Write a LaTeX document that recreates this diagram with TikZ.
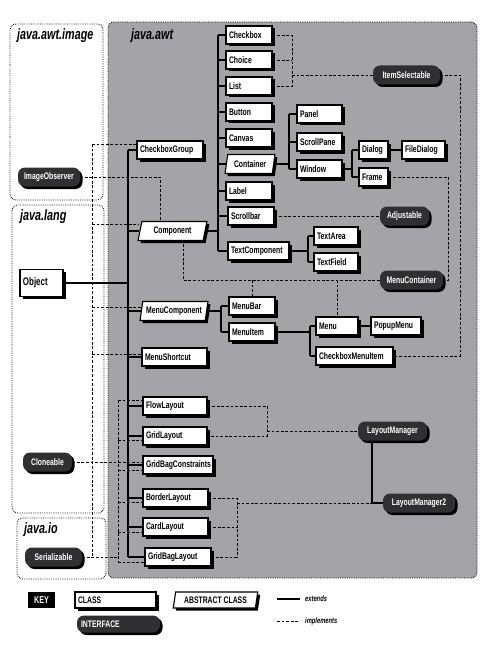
\documentclass[tikz,border=0pt]{standalone}
\usepackage{fontspec}
\setmainfont{Liberation Sans}[FakeStretch=0.72]
\usetikzlibrary{shapes.geometric,shadows,backgrounds}
\definecolor{awtgray}{RGB}{164,164,168}
\definecolor{ifill}{RGB}{48,48,50}
\begin{document}
\begin{tikzpicture}[x=1pt,y=-1pt,
  shd/.style={drop shadow={shadow xshift=2.5pt,shadow yshift=-2.5pt,opacity=1,fill=black}},
  lbl/.style={font=\bfseries\fontsize{9.5}{10}\selectfont},
  cls/.style={rectangle,draw=black,line width=1.1pt,fill=white,shd,lbl,inner xsep=3pt,inner ysep=0pt,minimum height=18pt,align=left,text width=#1},
  abs/.style={trapezium,trapezium left angle=74,trapezium right angle=106,trapezium stretches=true,draw=black,line width=1.1pt,fill=white,shd,lbl,minimum width=#1,minimum height=19pt,inner xsep=1pt,inner ysep=0pt},
  ifc/.style={rectangle,rounded corners=7pt,fill=ifill,text=white,shd,lbl,minimum width=#1,minimum height=19pt,inner sep=0pt},
  ext/.style={line width=1.3pt},
  impl/.style={line width=0.9pt,dash pattern=on 2.8pt off 1.8pt},
  pkg/.style={rounded corners=6pt,line width=0.9pt,dash pattern=on 0.7pt off 1.1pt,draw=black},
  pkgtitle/.style={font=\bfseries\itshape\fontsize{15}{17}\selectfont,anchor=west,inner sep=0pt},
  keytxt/.style={font=\bfseries\itshape\fontsize{8}{9}\selectfont,anchor=west,inner sep=0pt}
]
\useasboundingbox (0,0) rectangle (502,658);

% package panels
\begin{scope}[on background layer]
\draw[pkg,fill=white] (10,24) rectangle (103,200);
\draw[pkg,fill=white] (12,205) rectangle (104,513);
\draw[pkg,fill=white] (17,518) rectangle (106,579);
\draw[pkg,fill=awtgray] (108,22) rectangle (477,578);
\end{scope}
\node[pkgtitle] (tImage) at (17,36) {java.awt.image};
\node[pkgtitle] (tAwt) at (131,36) {java.awt};
\node[pkgtitle] (tLang) at (20,217) {java.lang};
\node[pkgtitle] (tIo) at (24,530) {java.io};

% classes
\node[cls=40pt] (Checkbox) at (249,35) {Checkbox};
\node[cls=40pt] (Choice) at (249,60) {Choice};
\node[cls=40pt] (List) at (249,86) {List};
\node[cls=40pt] (Button) at (249,112) {Button};
\node[cls=40pt] (Canvas) at (249,138) {Canvas};
\node[abs=50pt] (Container) at (250,164) {Container};
\node[cls=40pt] (Label) at (249,191) {Label};
\node[cls=40pt] (Scrollbar) at (251,216) {Scrollbar};
\node[cls=55pt] (TextComponent) at (258.5,251) {TextComponent};
\node[cls=39pt] (Panel) at (319.5,114) {Panel};
\node[cls=39pt] (ScrollPane) at (319.5,142) {ScrollPane};
\node[cls=39pt] (Window) at (319.5,169) {Window};
\node[cls=23pt] (Dialog) at (373.5,150) {Dialog};
\node[cls=23pt] (Frame) at (373.5,177) {Frame};
\node[cls=37pt] (FileDialog) at (423.5,150) {FileDialog};
\node[cls=38pt] (TextArea) at (336,236) {TextArea};
\node[cls=38pt] (TextField) at (336,262) {TextField};
\node[cls=60pt] (CheckboxGroup) at (170,150) {CheckboxGroup};
\node[abs=69pt] (Component) at (172.5,231) {Component};
\node[abs=68pt] (MenuComponent) at (174,311) {MenuComponent};
\node[cls=40pt] (MenuBar) at (252,306) {MenuBar};
\node[cls=40pt] (MenuItem) at (252,332) {MenuItem};
\node[cls=36pt] (Menu) at (337,326) {Menu};
\node[cls=44pt] (PopupMenu) at (396,326) {PopupMenu};
\node[cls=71pt] (CheckboxMenuItem) at (354.5,356) {CheckboxMenuItem};
\node[cls=59pt] (MenuShortcut) at (174.5,357) {MenuShortcut};
\node[cls=58pt] (FlowLayout) at (175,406) {FlowLayout};
\node[cls=58pt] (GridLayout) at (175,436) {GridLayout};
\node[cls=64pt] (GridBagConstraints) at (178,465) {GridBagConstraints};
\node[cls=59pt] (BorderLayout) at (175.5,498) {BorderLayout};
\node[cls=59pt] (CardLayout) at (175.5,527) {CardLayout};
\node[cls=60pt] (GridBagLayout) at (178,557) {GridBagLayout};
\node[cls=37pt,minimum height=27pt,font=\bfseries\fontsize{11}{12}\selectfont] (Object) at (41.5,283) {Object};

% interfaces
\node[ifc=62pt] (ImageObserver) at (49,177) {ImageObserver};
\node[ifc=67pt] (ItemSelectable) at (406.5,75) {ItemSelectable};
\node[ifc=49pt] (Adjustable) at (404.5,216) {Adjustable};
\node[ifc=63pt] (MenuContainer) at (411.5,280) {MenuContainer};
\node[ifc=69pt] (LayoutManager) at (392.5,431) {LayoutManager};
\node[ifc=72pt] (LayoutManager2) at (419,503) {LayoutManager2};
\node[ifc=49pt] (Cloneable) at (47.5,462) {Cloneable};
\node[ifc=57pt] (Serializable) at (53.5,557) {Serializable};

% trunk coordinates
\coordinate (T1) at (128,0);
\coordinate (T2) at (218,0);
\coordinate (T3) at (289,0);
\coordinate (T4) at (352,0);
\coordinate (T5) at (308,0);
\coordinate (T6) at (221,0);
\coordinate (T7) at (310,0);
\coordinate (S1) at (92,0);
\coordinate (S2) at (118,0);
\coordinate (IO) at (160,0);
\coordinate (MCx) at (183,0);
\coordinate (FRx) at (448,0);
\coordinate (ISx) at (292,0);
\coordinate (ISr) at (460,0);
\coordinate (LMa) at (267,0);
\coordinate (LMb) at (237,0);
\coordinate (LMc) at (372,0);
\coordinate (sCG) at ([yshift=6pt]CheckboxGroup.west);
\coordinate (sCO) at ([yshift=7pt]Component.west);
\coordinate (sMC) at ([yshift=4pt]MenuComponent.west);
\coordinate (sMS) at ([yshift=3pt]MenuShortcut.west);
\coordinate (sFL) at ([yshift=6pt]FlowLayout.west);
\coordinate (sGL) at ([yshift=-4pt]GridLayout.west);
\coordinate (sGC) at ([yshift=-5pt]GridBagConstraints.west);
\coordinate (sBL) at ([yshift=-4pt]BorderLayout.west);
\coordinate (sCL) at ([yshift=-5pt]CardLayout.west);
\coordinate (sGB) at ([yshift=-5pt]GridBagLayout.west);

\begin{scope}[on background layer]
% extends: Object subclasses
\draw[ext] (Object.east) -- (Object.east -| T1);
\draw[ext] (CheckboxGroup.west -| T1) -- (GridBagLayout.west -| T1);
\foreach \n in {CheckboxGroup,Component,MenuComponent,MenuShortcut,FlowLayout,GridLayout,GridBagConstraints,BorderLayout,CardLayout,GridBagLayout}
  \draw[ext] (\n.west -| T1) -- (\n.west);
% Component subclasses
\draw[ext] (Component.east) -- (Component.east -| T2);
\draw[ext] (Checkbox.west -| T2) -- (TextComponent.west -| T2);
\foreach \n in {Checkbox,Choice,List,Button,Canvas,Container,Label,Scrollbar,TextComponent}
  \draw[ext] (\n.west -| T2) -- (\n.west);
% Container subclasses
\draw[ext] (Container.east) -- (Container.east -| T3);
\draw[ext] (Panel.west -| T3) -- (Window.west -| T3);
\foreach \n in {Panel,ScrollPane,Window}
  \draw[ext] (\n.west -| T3) -- (\n.west);
% Window subclasses
\draw[ext] (Window.east) -- (Window.east -| T4);
\draw[ext] (Dialog.west -| T4) -- (Frame.west -| T4);
\foreach \n in {Dialog,Frame}
  \draw[ext] (\n.west -| T4) -- (\n.west);
\draw[ext] (Dialog.east) -- (FileDialog.west);
% TextComponent subclasses
\draw[ext] (TextComponent.east) -- (TextComponent.east -| T5);
\draw[ext] (TextArea.west -| T5) -- (TextField.west -| T5);
\foreach \n in {TextArea,TextField}
  \draw[ext] (\n.west -| T5) -- (\n.west);
% MenuComponent subclasses
\draw[ext] (MenuComponent.east) -- (MenuComponent.east -| T6);
\draw[ext] (MenuBar.west -| T6) -- (MenuItem.west -| T6);
\foreach \n in {MenuBar,MenuItem}
  \draw[ext] (\n.west -| T6) -- (\n.west);
% MenuItem subclasses
\draw[ext] (MenuItem.east) -- (MenuItem.east -| T7);
\draw[ext] (Menu.west -| T7) -- (CheckboxMenuItem.west -| T7);
\foreach \n in {Menu,CheckboxMenuItem}
  \draw[ext] (\n.west -| T7) -- (\n.west);
\draw[ext] (Menu.east) -- (PopupMenu.west);
% LayoutManager2 extends LayoutManager
\draw[ext] (LMc |- LayoutManager.south) |- (LayoutManager2.west);

% implements: Serializable
\draw[impl] (sCG -| S1) -- (Serializable.east -| S1);
\draw[impl] (Serializable.east) -- (Serializable.east -| S2);
\draw[impl] (sFL -| S2) -- (sGB -| S2);
\foreach \c in {sCG,sCO,sMC,sMS}
  \draw[impl] (\c -| S1) -- (\c);
\foreach \c in {sFL,sGL,sGC,sBL,sCL,sGB}
  \draw[impl] (\c -| S2) -- (\c);
% Cloneable
\draw[impl] (Cloneable.east) -- (Cloneable.east -| GridBagConstraints.west);
% ImageObserver
\draw[impl] (ImageObserver.east) -- (ImageObserver.east -| IO) -- (Component.north -| IO);
% MenuContainer
\draw[impl] (MenuContainer.west) -- (MenuContainer.west -| MCx) -- (Component.south -| MCx);
\draw[impl] (MenuContainer.west -| MenuBar.north) -- (MenuBar.north);
\draw[impl] (MenuContainer.west -| Menu.north) -- (Menu.north);
\draw[impl] (Frame.east) -- (Frame.east -| FRx) -- (MenuContainer.east -| FRx) -- (MenuContainer.east);
% ItemSelectable
\draw[impl] (Checkbox.east) -- (Checkbox.east -| ISx) -- (List.east -| ISx) -- (List.east);
\draw[impl] (Choice.east) -- (Choice.east -| ISx);
\draw[impl] (ItemSelectable.west -| ISx) -- (ItemSelectable.west);
\draw[impl] (ItemSelectable.east) -- (ItemSelectable.east -| ISr) -- (CheckboxMenuItem.east -| ISr) -- (CheckboxMenuItem.east);
% Adjustable
\draw[impl] (Scrollbar.east) -- (Adjustable.west);
% LayoutManager
\draw[impl] (FlowLayout.east) -- (FlowLayout.east -| LMa) -- (GridLayout.east -| LMa) -- (GridLayout.east);
\draw[impl] (LayoutManager.west -| LMa) -- (LayoutManager.west);
% LayoutManager2
\draw[impl] (BorderLayout.east) -- (BorderLayout.east -| LMb) -- (GridBagLayout.east -| LMb) -- (GridBagLayout.east);
\draw[impl] (CardLayout.east) -- (CardLayout.east -| LMb);
\draw[impl] (LayoutManager2.west -| LMb) -- (LayoutManager2.west);
\end{scope}

% key
\node[fill=black,text=white,font=\bfseries\fontsize{10}{11}\selectfont,minimum width=27pt,minimum height=16pt,inner sep=0pt] (KEY) at (41.5,600) {KEY};
\node[cls=75pt,minimum height=16pt] (keyclass) at (115.5,600) {CLASS};
\node[abs=85pt,minimum height=16pt] (keyabs) at (215.5,600) {ABSTRACT CLASS};
\node[ifc=83pt,text width=75pt,align=left,minimum height=17pt] (keyifc) at (118.5,624) {INTERFACE};
\coordinate (e1) at (277,599);
\coordinate (e2) at (300,599);
\coordinate (i1) at (277,621);
\coordinate (i2) at (300,621);
\draw[ext] (e1) -- (e2);
\draw[impl] (i1) -- (i2);
\node[keytxt] (extlbl) at (305,599) {extends};
\node[keytxt] (impllbl) at (305,621) {implements};
\end{tikzpicture}
\end{document}
